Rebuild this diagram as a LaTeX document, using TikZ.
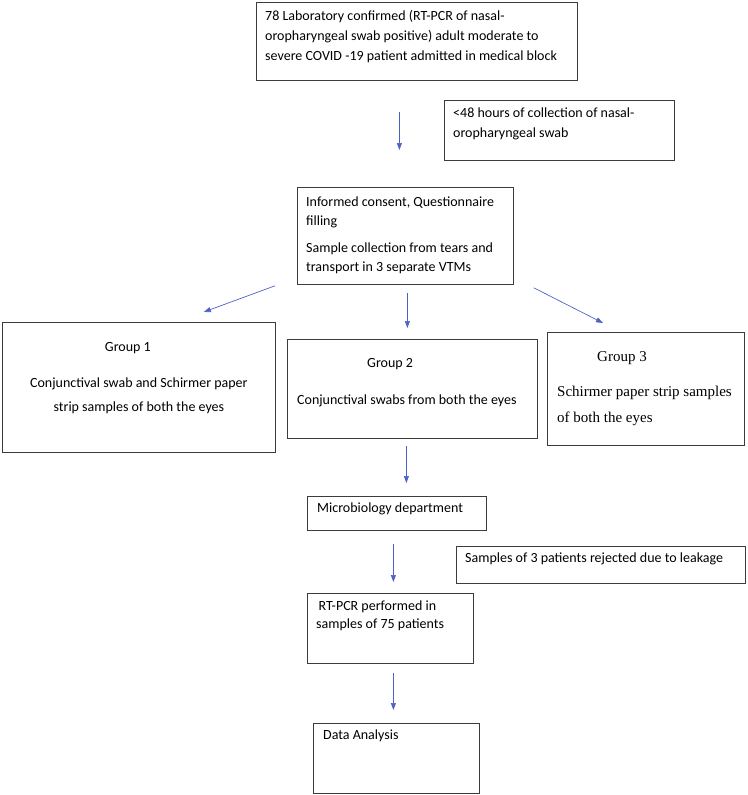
\documentclass[tikz,border=0pt]{standalone}
\usepackage{fontspec}
\setmainfont{Carlito}
\newfontfamily\timesfont{Liberation Serif}
\usetikzlibrary{arrows.meta}
\definecolor{boxline}{HTML}{3C3C3C}
\definecolor{flowblue}{HTML}{4C62C6}

\begin{document}
\begin{tikzpicture}[
        x=1pt, y=-1pt,
        box/.style={draw=boxline, line width=0.8pt, anchor=north west, inner sep=0pt},
        txt/.style={anchor=north west, align=left, inner sep=0pt, font=\fontsize{14}{20}\selectfont},
        ctxt/.style={anchor=north, align=center, inner sep=0pt, font=\fontsize{14}{24}\selectfont},
        flow/.style={draw=flowblue, line width=0.7pt, -{Triangle[length=7pt, width=5pt]}}
      ]
      \useasboundingbox (0,0) rectangle (747,795);
      \node[box, minimum width=321pt, minimum height=78pt,
        label={[txt, xshift=9pt, yshift=-8pt]north west:78 Laboratory confirmed (RT-PCR of nasal-\\oropharyngeal swab positive) adult moderate to\\severe COVID -19 patient admitted in medical block}]
        (enrol) at (256,2) {};
      \node[box, minimum width=230pt, minimum height=60pt,
        label={[txt, xshift=9pt, yshift=-8pt]north west:<48 hours of collection of nasal-\\oropharyngeal swab}]
        (window) at (444,100) {};
      \node[box, minimum width=216pt, minimum height=97pt,
        label={[txt, font=\fontsize{14}{18.5}\selectfont, xshift=9pt, yshift=-10pt]north west:Informed consent, Questionnaire\\filling\\[9pt]Sample collection from tears and\\transport in 3 separate VTMs}]
        (consent) at (297,187) {};
      \node[box, minimum width=273pt, minimum height=130pt,
        label={[ctxt, yshift=-20pt]north:Group 1\hspace*{22pt}\\[12pt]Conjunctival swab and Schirmer paper\\strip samples of both the eyes}]
        (grpA) at (2,322) {};
      \node[box, minimum width=250pt, minimum height=99pt,
        label={[txt, font=\fontsize{14}{24}\selectfont, xshift=10pt, yshift=-19pt]north west:\hspace*{70pt}Group 2\\[13pt]Conjunctival swabs from both the eyes}]
        (grpB) at (287,339) {};
      \node[box, minimum width=197pt, minimum height=113pt,
        label={[txt, font=\timesfont\fontsize{15}{26}\selectfont, xshift=10pt, yshift=-19pt]north west:\hspace*{40pt}Group 3\\[9pt]Schirmer paper strip samples\\of both the eyes}]
        (grpC) at (547,332) {};
      \node[box, minimum width=179pt, minimum height=34pt,
        label={[txt, xshift=10pt, yshift=-7pt]north west:Microbiology department}]
        (micro) at (307,496) {};
      \node[box, minimum width=289pt, minimum height=37pt,
        label={[txt, xshift=9pt, yshift=-7pt]north west:Samples of 3 patients rejected due to leakage}]
        (reject) at (456,546) {};
      \node[box, minimum width=166pt, minimum height=70pt,
        label={[txt, font=\fontsize{14}{18}\selectfont, xshift=9pt, yshift=-8pt]north west:\,RT-PCR performed in\\samples of 75 patients}]
        (pcr) at (307,593) {};
      \node[box, minimum width=166pt, minimum height=70pt,
        label={[txt, xshift=10pt, yshift=-7pt]north west:Data Analysis}]
        (analysis) at (313,723) {};

      \draw[flow, shorten <=31pt, shorten >=37pt] ([xshift=-6pt]consent.north |- enrol.south) -- ([xshift=-6pt]consent.north);
      \draw[flow] ([xshift=-22pt, yshift=-1pt]consent.south west) -- ([xshift=-72pt, yshift=10pt]grpA.north east);
      \draw[flow, shorten <=8pt, shorten >=11pt] ([xshift=2pt]consent.south) -- ([xshift=2pt]consent.south |- grpB.north);
      \draw[flow] ([xshift=20pt, yshift=-3pt]consent.south east) -- ([xshift=56pt, yshift=9pt]grpC.north west);
      \draw[flow, shorten <=7pt, shorten >=13pt] ([xshift=-6pt]grpB.south) -- ([xshift=-6pt]grpB.south |- micro.north);
      \draw[flow, shorten <=13pt, shorten >=11pt] ([xshift=-3.5pt]micro.south) -- ([xshift=-3.5pt]micro.south |- pcr.north);
      \draw[flow, shorten <=9pt, shorten >=13pt] ([xshift=3pt]pcr.south) -- ([xshift=3pt]pcr.south |- analysis.north);
    \end{tikzpicture}
\end{document}
